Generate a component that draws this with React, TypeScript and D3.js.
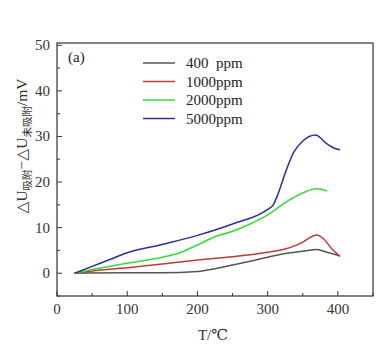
import React, { useEffect, useRef } from "react";
import * as d3 from "d3";

// series: [T (°C), ΔU (mV)]
const gray400 = [[25, 0], [100, 0.1], [150, 0.1], [200, 0.4], [225, 1], [250, 1.8], [275, 2.6], [300, 3.5], [325, 4.3], [350, 4.8], [370, 5.2], [385, 4.6], [403, 3.8]];
const red1000 = [[25, 0], [50, 0.5], [100, 1.2], [150, 2], [200, 2.9], [250, 3.6], [300, 4.6], [325, 5.3], [350, 6.8], [360, 7.8], [370, 8.4], [380, 7.5], [390, 5.6], [403, 3.7]];
const green2000 = [[25, 0], [50, 0.8], [100, 2.2], [150, 3.5], [175, 4.5], [200, 6.2], [225, 8], [250, 9.2], [275, 10.8], [300, 12.8], [325, 15.5], [350, 17.6], [370, 18.5], [385, 18]];
const blue5000 = [[25, 0], [50, 1.5], [75, 3], [100, 4.5], [150, 6.3], [200, 8.3], [250, 10.8], [300, 14], [308, 15], [315, 17.5], [325, 22], [337, 26.5], [350, 29], [368, 30.3], [385, 28.3], [395, 27.4], [403, 27.1]];

const seriesNames = ["400  ppm", "1000ppm", "2000ppm", "5000ppm"];
const seriesColors = ["#555555", "#c0393b", "#33dd33", "#2e2e96"];
const seriesData = [gray400, red1000, green2000, blue5000];

const xTicks = [0, 100, 200, 300, 400];
const yTicks = [0, 10, 20, 30, 40, 50];

const font = "'Liberation Serif', 'DejaVu Serif', 'Noto Sans CJK SC', serif";

export default function App() {
  const node = useRef<SVGSVGElement>(null);

  useEffect(() => {
    const svg = d3.select(node.current);
    svg.selectAll("*").remove();

    const left = 57, right = 373, top = 43, bottom = 296;
    const x = d3.scaleLinear().domain([0, 450]).range([left, right]);
    const y = d3.scaleLinear().domain([-5, 50.5]).range([bottom, top]);

    const g = svg.append("g");

    // frame
    g.append("rect")
      .attr("x", left).attr("y", top)
      .attr("width", right - left).attr("height", bottom - top)
      .attr("fill", "none").attr("stroke", "#333").attr("stroke-width", 1.2);

    // x ticks (inward)
    d3.range(0, 451, 50).forEach(v => {
      const len = v % 100 === 0 ? 5 : 3;
      g.append("line")
        .attr("x1", x(v)).attr("x2", x(v))
        .attr("y1", bottom).attr("y2", bottom - len)
        .attr("stroke", "#333");
    });
    g.selectAll(".xl").data(xTicks).join("text")
      .attr("x", d => x(d)).attr("y", bottom + 18)
      .attr("text-anchor", "middle")
      .attr("font-family", font).attr("font-size", 15).attr("fill", "#333")
      .text(d => d);

    // y ticks (inward)
    d3.range(-5, 51, 5).forEach(v => {
      const len = v % 10 === 0 ? 5 : 3;
      g.append("line")
        .attr("x1", left).attr("x2", left + len)
        .attr("y1", y(v)).attr("y2", y(v))
        .attr("stroke", "#333");
    });
    g.selectAll(".yl").data(yTicks).join("text")
      .attr("x", left - 7).attr("y", d => y(d) + 5)
      .attr("text-anchor", "end")
      .attr("font-family", font).attr("font-size", 15).attr("fill", "#333")
      .text(d => d);

    // x title
    g.append("text")
      .attr("x", 213).attr("y", 340)
      .attr("text-anchor", "middle")
      .attr("font-family", font).attr("font-size", 15).attr("fill", "#333")
      .text("T/℃");

    // y title with subscripts
    const yt = g.append("text")
      .attr("transform", "translate(27,146) rotate(-90)")
      .attr("text-anchor", "middle")
      .attr("font-family", font).attr("font-size", 15.5).attr("fill", "#333");
    yt.append("tspan").text("△U");
    yt.append("tspan").attr("font-size", 10.5).attr("dy", 4).text("吸附");
    yt.append("tspan").attr("dy", -4).text("−△U");
    yt.append("tspan").attr("font-size", 10.5).attr("dy", 4).text("未吸附");
    yt.append("tspan").attr("dy", -4).text("/mV");

    // lines
    const line = d3.line<number[]>()
      .x(d => x(d[0]))
      .y(d => y(d[1]))
      .curve(d3.curveMonotoneX);

    seriesData.forEach((s, i) => {
      g.append("path")
        .attr("d", line(s))
        .attr("fill", "none")
        .attr("stroke", seriesColors[i])
        .attr("stroke-width", 1.5);
    });

    // panel label
    g.append("text")
      .attr("x", 68).attr("y", 62)
      .attr("font-family", font).attr("font-size", 15).attr("fill", "#222")
      .text("(a)");

    // legend
    const leg = g.selectAll(".leg").data(seriesNames).join("g")
      .attr("transform", (d, i) => `translate(143,${63 + i * 18.5})`);
    leg.append("line")
      .attr("x1", 0).attr("x2", 32)
      .attr("stroke", (d, i) => seriesColors[i])
      .attr("stroke-width", 1.5);
    leg.append("text")
      .attr("x", 43).attr("y", 5)
      .attr("font-family", font).attr("font-size", 15).attr("fill", "#222")
      .attr("xml:space", "preserve")
      .style("white-space", "pre")
      .text(d => d);
  }, []);

  return (
    <svg ref={node} width={390} height={358}
      style={{ position: "absolute", left: 0, top: 0, background: "#fff" }} />
  );
}
